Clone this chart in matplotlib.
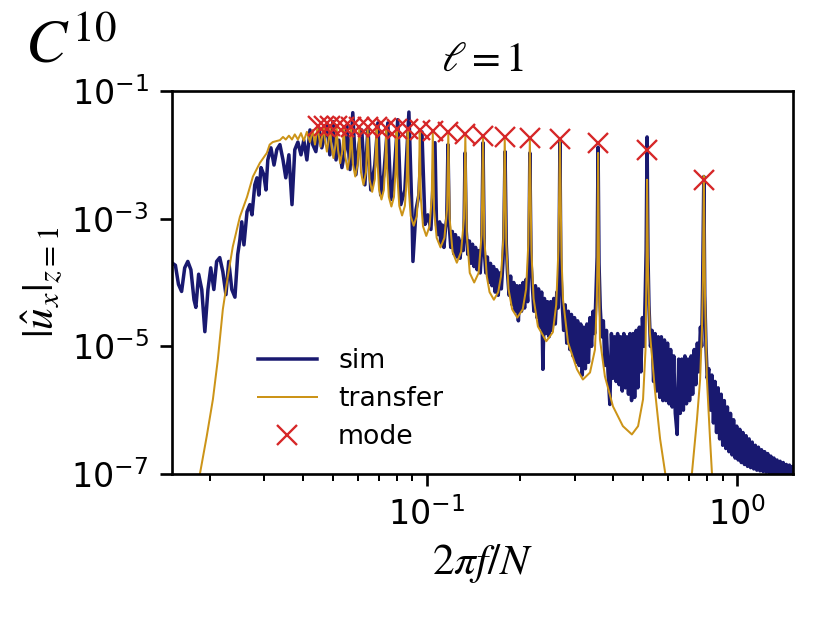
import numpy as np
import matplotlib
matplotlib.use("Agg")
import matplotlib.pyplot as plt
from matplotlib.ticker import NullLocator

# spectra, stored as (log10 2pi f/N, log10 |u_x|)
sim_log = np.array([
    (-1.822, -3.69), (-1.81, -3.73), (-1.80, -4.03), (-1.79, -4.14), (-1.78, -3.77), (-1.77, -3.67),
    (-1.76, -3.80), (-1.75, -4.27), (-1.744, -4.39), (-1.735, -3.87), (-1.725, -4.11), (-1.715, -4.77),
    (-1.705, -4.11), (-1.696, -3.77), (-1.686, -4.11), (-1.677, -3.67), (-1.667, -3.61), (-1.657, -3.83),
    (-1.647, -4.19), (-1.638, -3.67), (-1.628, -4.11), (-1.618, -4.23), (-1.609, -3.56),
    (-1.602, -3.33), (-1.596, -3.05), (-1.589, -3.41), (-1.579, -2.89), (-1.570, -2.78), (-1.563, -2.94),
    (-1.554, -2.47), (-1.547, -2.36), (-1.541, -2.63), (-1.534, -2.20), (-1.525, -2.31), (-1.518, -2.55),
    (-1.512, -2.08), (-1.502, -1.89), (-1.492, -2.16), (-1.483, -1.92), (-1.473, -1.84), (-1.463, -2.08),
    (-1.454, -2.36), (-1.444, -2.00), (-1.434, -2.78), (-1.425, -1.92), (-1.415, -1.80), (-1.405, -2.00),
    (-1.396, -1.77), (-1.386, -2.08), (-1.376, -1.61), (-1.367, -1.84), (-1.357, -1.95), (-1.347, -1.58),
    (-1.338, -1.89), (-1.328, -1.69), (-1.321, -1.53), (-1.312, -2.00), (-1.302, -1.48), (-1.292, -2.08),
    (-1.283, -1.77), (-1.273, -2.20), (-1.263, -1.92), (-1.257, -1.53), (-1.247, -2.23), (-1.238, -1.34),
    (-1.228, -2.31), (-1.218, -1.84), (-1.209, -1.61), (-1.199, -2.47), (-1.189, -1.56), (-1.180, -2.55),
    (-1.167, -2.16), (-1.157, -1.50), (-1.148, -2.63), (-1.138, -2.31), (-1.125, -1.50), (-1.115, -2.70),
    (-1.106, -2.39), (-1.093, -1.45), (-1.083, -2.78), (-1.070, -2.55), (-1.057, -1.33), (-1.047, -2.94),
    (-1.044, -3.67), (-1.034, -2.86), (-1.025, -2.63), (-1.015, -1.64), (-1.005, -3.09), (-0.996, -2.94),
    (-0.986, -3.17), (-0.973, -1.81), (-0.968, -3.10), (-0.963, -3.25),
    (-0.958, -3.05), (-0.954, -3.40), (-0.949, -3.10), (-0.944, -3.45), (-0.939, -3.15), (-0.935, -3.00),
    (-0.931, -1.84), (-0.927, -3.10), (-0.922, -3.45), (-0.917, -3.20), (-0.912, -3.55), (-0.907, -3.25),
    (-0.902, -3.60), (-0.897, -3.30), (-0.892, -3.62), (-0.887, -3.35), (-0.882, -3.50), (-0.879, -3.10),
    (-0.876, -1.97), (-0.872, -3.20), (-0.867, -3.56), (-0.862, -3.35), (-0.857, -3.70), (-0.852, -3.40),
    (-0.847, -3.75), (-0.842, -3.45), (-0.837, -3.80), (-0.832, -3.50), (-0.827, -3.85), (-0.822, -3.40),
    (-0.818, -1.81), (-0.814, -3.50), (-0.809, -3.85), (-0.804, -3.60), (-0.799, -4.00), (-0.794, -3.70),
    (-0.789, -4.05), (-0.784, -3.75), (-0.779, -4.15), (-0.774, -3.80), (-0.769, -4.20), (-0.764, -3.85),
    (-0.759, -4.10), (-0.754, -3.70), (-0.751, -3.30), (-0.747, -1.95), (-0.743, -3.40), (-0.739, -3.85),
    (-0.734, -4.20), (-0.729, -3.90), (-0.724, -4.35), (-0.719, -4.00), (-0.714, -4.45), (-0.709, -4.05),
    (-0.704, -4.60), (-0.699, -4.05), (-0.694, -4.45), (-0.689, -4.00), (-0.684, -4.40), (-0.679, -3.95),
    (-0.674, -4.30), (-0.670, -3.60), (-0.667, -1.97), (-0.663, -3.70), (-0.659, -4.05), (-0.654, -4.45),
    (-0.649, -4.05), (-0.644, -4.55), (-0.639, -4.10), (-0.634, -4.70), (-0.629, -4.15), (-0.625, -5.36),
    (-0.620, -4.25), (-0.615, -4.80), (-0.610, -4.30), (-0.605, -4.85), (-0.600, -4.30), (-0.595, -4.75),
    (-0.590, -4.25), (-0.585, -4.65), (-0.580, -4.15), (-0.576, -4.40), (-0.573, -3.70), (-0.570, -1.77),
    (-0.567, -3.80), (-0.563, -4.30), (-0.558, -4.75), (-0.553, -4.35), (-0.548, -4.95), (-0.543, -4.45),
    (-0.538, -5.05), (-0.533, -4.50), (-0.528, -5.15), (-0.523, -4.55), (-0.518, -5.25), (-0.513, -4.60),
    (-0.508, -5.30), (-0.503, -4.65), (-0.498, -5.45), (-0.493, -4.70), (-0.488, -5.35), (-0.483, -4.65),
    (-0.478, -5.25), (-0.473, -4.55), (-0.468, -5.00), (-0.463, -4.45), (-0.458, -4.80), (-0.454, -4.20),
    (-0.450, -3.60), (-0.447, -1.88), (-0.444, -3.70), (-0.440, -4.40), (-0.435, -4.85), (-0.430, -4.60),
    (-0.425, -5.30), (-0.420, -4.75), (-0.415, -5.40), (-0.409, -5.91), (-0.404, -4.80), (-0.399, -5.50),
    (-0.394, -4.85), (-0.389, -5.55), (-0.384, -4.80), (-0.379, -5.60), (-0.374, -4.85), (-0.369, -5.70),
    (-0.364, -4.80), (-0.359, -5.65), (-0.354, -4.85), (-0.349, -5.75), (-0.344, -4.80), (-0.339, -5.85),
    (-0.334, -4.80), (-0.329, -5.80), (-0.324, -4.75), (-0.319, -5.65), (-0.314, -4.70), (-0.309, -5.40),
    (-0.304, -4.55), (-0.299, -5.00), (-0.295, -4.20), (-0.292, -3.50), (-0.289, -1.72), (-0.286, -3.60),
    (-0.283, -4.35), (-0.278, -5.00), (-0.273, -4.75), (-0.268, -5.55), (-0.263, -4.80), (-0.258, -5.70),
    (-0.253, -4.85), (-0.248, -5.80), (-0.243, -4.85), (-0.238, -5.85), (-0.233, -4.90), (-0.228, -5.85),
    (-0.223, -4.95), (-0.218, -5.90), (-0.213, -5.05), (-0.208, -5.95), (-0.203, -5.15), (-0.198, -6.05),
    (-0.192, -6.38), (-0.187, -5.20), (-0.182, -6.05), (-0.177, -5.20), (-0.172, -6.00), (-0.167, -5.15),
    (-0.162, -5.90), (-0.157, -5.20), (-0.152, -5.85), (-0.147, -5.15), (-0.142, -5.75), (-0.137, -5.05),
    (-0.132, -5.60), (-0.127, -4.95), (-0.122, -5.40), (-0.117, -4.70), (-0.113, -5.00), (-0.110, -4.10),
    (-0.106, -2.34), (-0.103, -4.20), (-0.099, -5.00), (-0.095, -5.50), (-0.090, -5.35), (-0.085, -6.00),
    (-0.080, -5.45), (-0.075, -6.20), (-0.070, -5.55), (-0.065, -6.35), (-0.060, -5.65), (-0.055, -6.45),
    (-0.050, -5.75), (-0.045, -6.55), (-0.040, -5.85), (-0.035, -6.60), (-0.030, -5.95), (-0.025, -6.65),
    (-0.020, -6.05), (-0.015, -6.70), (-0.010, -6.15), (-0.005, -6.75), (0.000, -6.25), (0.005, -6.78),
    (0.010, -6.30), (0.015, -6.82), (0.020, -6.35), (0.025, -6.85), (0.030, -6.40), (0.035, -6.88),
    (0.040, -6.45), (0.045, -6.90), (0.050, -6.50), (0.055, -6.92), (0.060, -6.55), (0.065, -6.94),
    (0.070, -6.58), (0.075, -6.95), (0.080, -6.62), (0.085, -6.96), (0.090, -6.65), (0.095, -6.97),
    (0.100, -6.68), (0.105, -6.98), (0.110, -6.72), (0.115, -6.99), (0.120, -6.75), (0.125, -7.00),
    (0.130, -6.78), (0.135, -7.00), (0.140, -6.80), (0.145, -7.01), (0.150, -6.82), (0.155, -7.02),
    (0.160, -6.85), (0.165, -7.02), (0.170, -6.86), (0.175, -7.02), (0.180, -6.88), (0.184, -6.93),
])

transfer_log = np.array([
    (-1.731, -7.00), (-1.709, -6.41), (-1.689, -5.83), (-1.673, -5.20), (-1.657, -4.42), (-1.641, -3.91),
    (-1.625, -3.44), (-1.602, -2.97), (-1.579, -2.66), (-1.560, -2.34), (-1.538, -2.13), (-1.515, -1.97),
    (-1.506, -1.84), (-1.496, -1.80), (-1.473, -1.77),
    (-1.463, -1.72), (-1.454, -1.76), (-1.444, -1.70), (-1.434, -1.76), (-1.425, -1.68), (-1.415, -1.76),
    (-1.405, -1.66), (-1.396, -1.78), (-1.386, -1.64), (-1.376, -1.80), (-1.367, -1.61), (-1.360, -1.84),
    (-1.352, -1.58),
    (-1.348, -1.675), (-1.342, -1.875), (-1.336, -1.675),
    (-1.332, -1.58),
    (-1.328, -1.75), (-1.3215, -1.95), (-1.315, -1.75),
    (-1.311, -1.58),
    (-1.307, -1.85), (-1.3005, -2.05), (-1.294, -1.85),
    (-1.290, -1.58),
    (-1.2854, -1.93), (-1.2785, -2.13), (-1.2716, -1.93),
    (-1.267, -1.59),
    (-1.2622, -2.03), (-1.255, -2.23), (-1.2478, -2.03),
    (-1.243, -1.59),
    (-1.2378, -2.14), (-1.230, -2.34), (-1.2222, -2.14),
    (-1.217, -1.59),
    (-1.2116, -2.27), (-1.2035, -2.47), (-1.1954, -2.27),
    (-1.190, -1.60),
    (-1.1842, -2.38), (-1.1755, -2.58), (-1.1668, -2.38),
    (-1.161, -1.60),
    (-1.1585, -2.10), (-1.1532, -2.55), (-1.1455, -2.70), (-1.1378, -2.55), (-1.1325, -2.10),
    (-1.130, -1.61),
    (-1.1274, -2.21), (-1.1218, -2.66), (-1.1135, -2.81), (-1.1052, -2.66), (-1.0996, -2.21),
    (-1.097, -1.62),
    (-1.0941, -2.35), (-1.088, -2.80), (-1.079, -2.95), (-1.070, -2.80), (-1.0639, -2.35),
    (-1.061, -1.63),
    (-1.0579, -2.51), (-1.0512, -2.96), (-1.0415, -3.11), (-1.0318, -2.96), (-1.0251, -2.51),
    (-1.022, -1.64),
    (-1.0186, -2.67), (-1.0115, -3.12), (-1.001, -3.27), (-0.9905, -3.12), (-0.9834, -2.67),
    (-0.980, -1.65),
    (-0.976, -2.85), (-0.9675, -3.30), (-0.955, -3.45), (-0.9425, -3.30), (-0.934, -2.85),
    (-0.930, -1.67),
    (-0.9256, -3.00), (-0.9162, -3.52), (-0.9025, -3.69), (-0.8888, -3.52), (-0.8794, -3.00),
    (-0.875, -1.70),
    (-0.8704, -3.25), (-0.8608, -3.85), (-0.8465, -4.00), (-0.8322, -3.85), (-0.8226, -3.25),
    (-0.818, -1.72),
    (-0.8138, -3.30), (-0.806, -3.90), (-0.797, -4.15), (-0.783, -4.27), (-0.769, -4.15), (-0.760, -3.90),
    (-0.7522, -3.30),
    (-0.748, -1.74),
    (-0.743, -3.40), (-0.736, -4.10), (-0.724, -4.42), (-0.7075, -4.55), (-0.690, -4.42), (-0.679, -4.10),
    (-0.672, -3.40),
    (-0.667, -1.75),
    (-0.662, -3.50), (-0.655, -4.25), (-0.641, -4.69), (-0.614, -4.92), (-0.593, -4.78), (-0.582, -4.35),
    (-0.575, -3.50),
    (-0.570, -1.78),
    (-0.565, -3.60), (-0.560, -4.27), (-0.544, -4.94), (-0.515, -5.36), (-0.496, -5.52), (-0.473, -5.41),
    (-0.457, -5.05), (-0.451, -4.27), (-0.449, -3.60),
    (-0.447, -1.97),
    (-0.444, -3.70), (-0.441, -4.89), (-0.425, -5.47), (-0.399, -5.94), (-0.367, -6.25), (-0.338, -6.38),
    (-0.318, -6.25), (-0.302, -5.83), (-0.294, -5.05), (-0.291, -3.80),
    (-0.289, -2.39),
    (-0.286, -3.80), (-0.280, -4.78), (-0.264, -5.67), (-0.247, -6.45), (-0.231, -6.97), (-0.215, -7.55),
    (-0.189, -8.30), (-0.163, -7.55), (-0.144, -6.97), (-0.128, -6.14), (-0.118, -5.52), (-0.112, -4.73),
    (-0.109, -3.95),
    (-0.106, -2.33),
    (-0.102, -4.27), (-0.096, -5.52), (-0.086, -6.45), (-0.080, -6.97), (-0.067, -7.86),
])

mode_f = [0.0445, 0.0466, 0.0489, 0.0513, 0.0541, 0.0571, 0.0607, 0.0646, 0.0690, 0.0741, 0.0800, 0.0869,
          0.0951, 0.1047, 0.1175, 0.1334, 0.152, 0.1786, 0.2153, 0.2692, 0.3573, 0.514, 0.783]
mode_u = [0.0282, 0.0282, 0.0282, 0.0282, 0.0275, 0.0275, 0.0275, 0.0269, 0.0269, 0.0263, 0.0257, 0.0251,
          0.0245, 0.0240, 0.0229, 0.0214, 0.0200, 0.0191, 0.0186, 0.0174, 0.0155, 0.0120, 0.0041]

fig = plt.figure(figsize=(830 / 240, 628 / 240), dpi=240)
ax = fig.add_axes([0.2072, 0.2452, 0.7479, 0.6099])

ax.plot(10 ** sim_log[:, 0], 10 ** sim_log[:, 1], color='midnightblue', lw=1.05, label='sim')
ax.plot(10 ** transfer_log[:, 0], 10 ** transfer_log[:, 1], color='#cc9418', lw=0.6, label='transfer')
ax.plot(mode_f, mode_u, 'x', color='tab:red', ms=6, mew=0.7, label='mode')

ax.set_xscale('log')
ax.set_yscale('log')
ax.set_xlim(0.0151, 1.516)
ax.set_ylim(1e-7, 1e-1)
ax.set_yticks([1e-7, 1e-5, 1e-3, 1e-1])
ax.yaxis.set_minor_locator(NullLocator())

ax.set_xlabel(r'$2\pi f/N$', fontsize=13, math_fontfamily='stix', labelpad=3)
ax.set_ylabel(r'$|\hat{u}_x|_{z=1}$', fontsize=13, math_fontfamily='stix', labelpad=2)
ax.set_title(r'$\ell=1$', fontsize=12.5, math_fontfamily='stix')
fig.text(0.03, 0.90, r'$C^{10}$', fontsize=18.5, math_fontfamily='stix', va='baseline')

ax.legend(loc='lower left', bbox_to_anchor=(0.10, 0.0), frameon=False, fontsize=8,
          handlelength=2.2, handletextpad=0.8, labelspacing=0.45)

fig.savefig('out.png', dpi=240)
